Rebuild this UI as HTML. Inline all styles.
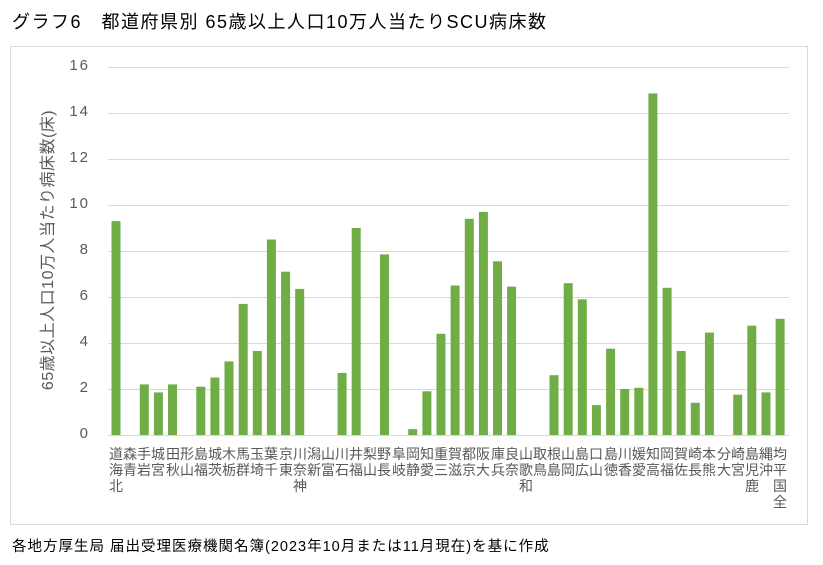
<!DOCTYPE html>
<html><head><meta charset="utf-8"><style>
body{margin:0;width:823px;height:565px;background:#fff;position:relative;overflow:hidden;font-family:"Liberation Sans","Noto Sans CJK JP",sans-serif;}
.t{position:absolute;left:12px;top:8px;font-size:18px;letter-spacing:1.5px;color:#000;}
.f{position:absolute;left:12px;top:535px;font-size:14.5px;letter-spacing:1px;color:#000;}
.box{position:absolute;left:10px;top:46px;width:798px;height:479px;border:1px solid #d9d9d9;box-sizing:border-box;}
.l{position:absolute;top:446px;width:14px;display:flex;flex-direction:column-reverse;justify-content:flex-end;font-size:14px;line-height:16px;color:#595959;text-align:center;}
.l span{display:block;width:14px;}
.yl{position:absolute;left:60px;width:30px;text-align:right;font-size:15px;color:#595959;letter-spacing:2px;}
.yt{position:absolute;left:46px;top:250px;transform:translate(-50%,-50%) rotate(-90deg);white-space:nowrap;font-size:16px;letter-spacing:0.5px;color:#595959;}
</style></head><body>
<div class="t">グラフ6　都道府県別 65歳以上人口10万人当たりSCU病床数</div>
<div class="box"></div>
<svg width="823" height="565" style="position:absolute;left:0;top:0">
<g stroke="#d9d9d9" stroke-width="1">
<line x1="108" x2="789" y1="67.5" y2="67.5"/><line x1="108" x2="789" y1="113.5" y2="113.5"/><line x1="108" x2="789" y1="159.5" y2="159.5"/><line x1="108" x2="789" y1="205.5" y2="205.5"/><line x1="108" x2="789" y1="251.5" y2="251.5"/><line x1="108" x2="789" y1="297.5" y2="297.5"/><line x1="108" x2="789" y1="343.5" y2="343.5"/><line x1="108" x2="789" y1="389.5" y2="389.5"/><line x1="108" x2="789" y1="435.5" y2="435.5"/>
</g>
<g fill="#70ad47">
<rect x="111.5" y="221.1" width="9" height="213.9"/>
<rect x="139.8" y="384.4" width="9" height="50.6"/>
<rect x="153.9" y="392.4" width="9" height="42.6"/>
<rect x="168.0" y="384.4" width="9" height="50.6"/>
<rect x="196.3" y="386.7" width="9" height="48.3"/>
<rect x="210.4" y="377.5" width="9" height="57.5"/>
<rect x="224.5" y="361.4" width="9" height="73.6"/>
<rect x="238.7" y="303.9" width="9" height="131.1"/>
<rect x="252.8" y="351.0" width="9" height="84.0"/>
<rect x="266.9" y="239.5" width="9" height="195.5"/>
<rect x="281.1" y="271.7" width="9" height="163.3"/>
<rect x="295.2" y="288.9" width="9" height="146.1"/>
<rect x="337.6" y="372.9" width="9" height="62.1"/>
<rect x="351.7" y="228" width="9" height="207"/>
<rect x="380.0" y="254.4" width="9" height="180.6"/>
<rect x="408.2" y="429.2" width="9" height="5.8"/>
<rect x="422.4" y="391.3" width="9" height="43.7"/>
<rect x="436.5" y="333.8" width="9" height="101.2"/>
<rect x="450.6" y="285.5" width="9" height="149.5"/>
<rect x="464.8" y="218.8" width="9" height="216.2"/>
<rect x="478.9" y="211.9" width="9" height="223.1"/>
<rect x="493.0" y="261.3" width="9" height="173.7"/>
<rect x="507.1" y="286.6" width="9" height="148.4"/>
<rect x="549.5" y="375.2" width="9" height="59.8"/>
<rect x="563.7" y="283.2" width="9" height="151.8"/>
<rect x="577.8" y="299.3" width="9" height="135.7"/>
<rect x="591.9" y="405.1" width="9" height="29.9"/>
<rect x="606.1" y="348.7" width="9" height="86.3"/>
<rect x="620.2" y="389" width="9" height="46"/>
<rect x="634.3" y="387.8" width="9" height="47.2"/>
<rect x="648.4" y="93.4" width="9" height="341.6"/>
<rect x="662.6" y="287.8" width="9" height="147.2"/>
<rect x="676.7" y="351.0" width="9" height="84.0"/>
<rect x="690.8" y="402.8" width="9" height="32.2"/>
<rect x="704.9" y="332.6" width="9" height="102.4"/>
<rect x="733.2" y="394.7" width="9" height="40.3"/>
<rect x="747.3" y="325.7" width="9" height="109.3"/>
<rect x="761.5" y="392.4" width="9" height="42.6"/>
<rect x="775.6" y="318.8" width="9" height="116.2"/>
</g>
</svg>
<div class="yl" style="top:57px">16</div>
<div class="yl" style="top:103px">14</div>
<div class="yl" style="top:149px">12</div>
<div class="yl" style="top:195px">10</div>
<div class="yl" style="top:241px">8</div>
<div class="yl" style="top:287px">6</div>
<div class="yl" style="top:333px">4</div>
<div class="yl" style="top:379px">2</div>
<div class="yl" style="top:425px">0</div>
<div class="yt">65歳以上人口10万人当たり病床数(床)</div>
<div class="l" style="left:109px"><span>北</span><span>海</span><span>道</span></div>
<div class="l" style="left:123px"><span>青</span><span>森</span></div>
<div class="l" style="left:137px"><span>岩</span><span>手</span></div>
<div class="l" style="left:151px"><span>宮</span><span>城</span></div>
<div class="l" style="left:166px"><span>秋</span><span>田</span></div>
<div class="l" style="left:180px"><span>山</span><span>形</span></div>
<div class="l" style="left:194px"><span>福</span><span>島</span></div>
<div class="l" style="left:208px"><span>茨</span><span>城</span></div>
<div class="l" style="left:222px"><span>栃</span><span>木</span></div>
<div class="l" style="left:236px"><span>群</span><span>馬</span></div>
<div class="l" style="left:250px"><span>埼</span><span>玉</span></div>
<div class="l" style="left:264px"><span>千</span><span>葉</span></div>
<div class="l" style="left:279px"><span>東</span><span>京</span></div>
<div class="l" style="left:293px"><span>神</span><span>奈</span><span>川</span></div>
<div class="l" style="left:307px"><span>新</span><span>潟</span></div>
<div class="l" style="left:321px"><span>富</span><span>山</span></div>
<div class="l" style="left:335px"><span>石</span><span>川</span></div>
<div class="l" style="left:349px"><span>福</span><span>井</span></div>
<div class="l" style="left:363px"><span>山</span><span>梨</span></div>
<div class="l" style="left:377px"><span>長</span><span>野</span></div>
<div class="l" style="left:392px"><span>岐</span><span>阜</span></div>
<div class="l" style="left:406px"><span>静</span><span>岡</span></div>
<div class="l" style="left:420px"><span>愛</span><span>知</span></div>
<div class="l" style="left:434px"><span>三</span><span>重</span></div>
<div class="l" style="left:448px"><span>滋</span><span>賀</span></div>
<div class="l" style="left:462px"><span>京</span><span>都</span></div>
<div class="l" style="left:476px"><span>大</span><span>阪</span></div>
<div class="l" style="left:491px"><span>兵</span><span>庫</span></div>
<div class="l" style="left:505px"><span>奈</span><span>良</span></div>
<div class="l" style="left:519px"><span>和</span><span>歌</span><span>山</span></div>
<div class="l" style="left:533px"><span>鳥</span><span>取</span></div>
<div class="l" style="left:547px"><span>島</span><span>根</span></div>
<div class="l" style="left:561px"><span>岡</span><span>山</span></div>
<div class="l" style="left:575px"><span>広</span><span>島</span></div>
<div class="l" style="left:589px"><span>山</span><span>口</span></div>
<div class="l" style="left:604px"><span>徳</span><span>島</span></div>
<div class="l" style="left:618px"><span>香</span><span>川</span></div>
<div class="l" style="left:632px"><span>愛</span><span>媛</span></div>
<div class="l" style="left:646px"><span>高</span><span>知</span></div>
<div class="l" style="left:660px"><span>福</span><span>岡</span></div>
<div class="l" style="left:674px"><span>佐</span><span>賀</span></div>
<div class="l" style="left:688px"><span>長</span><span>崎</span></div>
<div class="l" style="left:702px"><span>熊</span><span>本</span></div>
<div class="l" style="left:717px"><span>大</span><span>分</span></div>
<div class="l" style="left:731px"><span>宮</span><span>崎</span></div>
<div class="l" style="left:745px"><span>鹿</span><span>児</span><span>島</span></div>
<div class="l" style="left:759px"><span>沖</span><span>縄</span></div>
<div class="l" style="left:773px"><span>全</span><span>国</span><span>平</span><span>均</span></div>
<div class="f">各地方厚生局 届出受理医療機関名簿(2023年10月または11月現在)を基に作成</div>
</body></html>
